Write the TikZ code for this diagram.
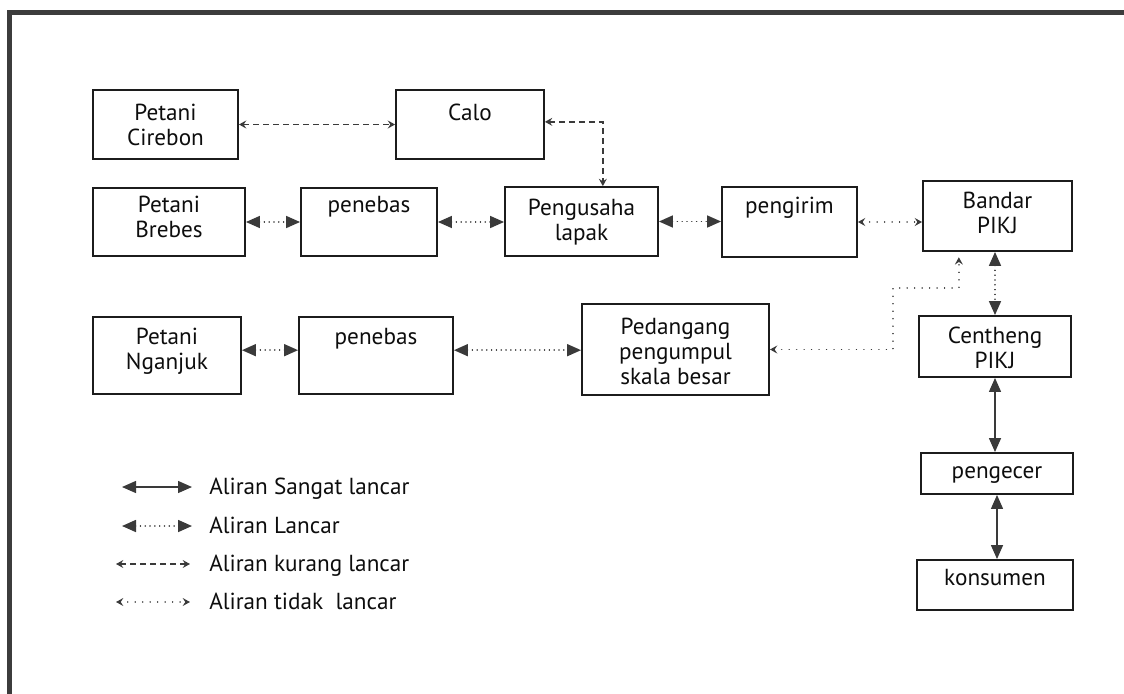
\documentclass[tikz,border=0pt]{standalone}
\usepackage{fontspec}
\setmainfont{PT Sans}
\usetikzlibrary{arrows.meta,fit}
\definecolor{framec}{HTML}{3C3C3C}
\definecolor{linec}{HTML}{3A3A3A}
\definecolor{boxc}{HTML}{1C1C1C}
\begin{document}
\begin{tikzpicture}[x=0.75pt,y=-0.75pt,
  box/.style={draw=boxc,line width=1.4pt,inner sep=0pt},
  lbl/.style={anchor=north,inner sep=0pt,align=center,text=black!95,
    font=\fontsize{17.4pt}{18.6pt}\selectfont},
  leg/.style={anchor=base west,inner sep=0pt,text=black!95,
    font=\fontsize{17.4pt}{18.6pt}\selectfont},
  big/.style={{Triangle[length=10.5pt,width=9pt]}-{Triangle[length=10.5pt,width=9pt]}},
  small/.style={{Stealth[length=5.5pt,width=6pt,inset=2pt]}-{Stealth[length=5.5pt,width=6pt,inset=2pt]}},
  solidflow/.style={big,draw=linec,line width=1pt},
  lancar/.style={big,draw=linec,line width=1.2pt,dash pattern=on 0.01pt off 3.6pt,line cap=round},
  kurang/.style={small,draw=linec,line width=1pt,dash pattern=on 4.5pt off 3pt},
  tidak/.style={small,draw=linec,line width=1.1pt,dash pattern=on 0.01pt off 5.6pt,line cap=round}]
\useasboundingbox (0,0) rectangle (1124,693);

% outer frame (top and left edges)
\draw[framec,line width=3.75pt] (9.3,720) -- (9.3,12.5) -- (1150,12.5);

% boxes
\node[box,fit={(93,90) (238,159)}] (pc) {};
\node[box,fit={(396,90) (544,159)}] (ca) {};
\node[box,fit={(93,188) (245,256)}] (pb) {};
\node[box,fit={(301,188) (437,256)}] (pn1) {};
\node[box,fit={(505,187) (658,256)}] (pu) {};
\node[box,fit={(722,187) (857,257)}] (pg) {};
\node[box,fit={(923,181) (1072,251)}] (bd) {};
\node[box,fit={(93,317) (241,394)}] (pn) {};
\node[box,fit={(299,317) (453,394)}] (pn2) {};
\node[box,fit={(582,304) (769,395)}] (pd) {};
\node[box,fit={(919,316) (1071,377)}] (ce) {};
\node[box,fit={(921,453) (1073,494)}] (pe) {};
\node[box,fit={(917,560) (1073,610)}] (ko) {};

% box texts
\node[lbl] (pc-t) at ([yshift=-11.25pt]pc.north) {Petani\\Cirebon};
\node[lbl] (ca-t) at ([yshift=-11.25pt]ca.north) {Calo};
\node[lbl] (pb-t) at ([yshift=-6.75pt]pb.north) {Petani\\Brebes};
\node[lbl] (pn1-t) at ([yshift=-6.75pt]pn1.north) {penebas};
\node[lbl] (pu-t) at ([yshift=-9.75pt]pu.north) {Pengusaha\\lapak};
\node[lbl] (pg-t) at ([yshift=-8.25pt]pg.north) {pengirim};
\node[lbl] (bd-t) at ([yshift=-9pt]bd.north) {Bandar\\PIKJ};
\node[lbl] (pn-t) at ([yshift=-9pt]pn.north) {Petani\\Nganjuk};
\node[lbl] (pn2-t) at ([yshift=-9pt]pn2.north) {penebas};
\node[lbl] (pd-t) at ([yshift=-11pt]pd.north) {Pedangang\\pengumpul\\skala besar};
\node[lbl] (ce-t) at ([yshift=-9pt]ce.north) {Centheng\\PIKJ};
\node[lbl] (pe-t) at ([yshift=-10.5pt]pe.north) {pengecer};
\node[lbl] (ko-t) at ([yshift=-7.5pt]ko.north) {konsumen};

% flows
\draw[kurang] (pc.east) -- (ca.west);
\draw[kurang] ([yshift=2pt]ca.east) -| ([xshift=16pt]pu.north);
\draw[lancar] (pb.east) -- (pb.east -| pn1.west);
\draw[lancar] (pn1.east) -- (pn1.east -| pu.west);
\draw[lancar] (pu.east) -- (pu.east -| pg.west);
\draw[tidak] (pg.east) -- (pg.east -| bd.west);
\draw[lancar] (bd.south -| ce.north) -- (ce.north);
\coordinate (k1) at (893,288);
\draw[tidak,shorten >=4pt] (pd.east) -| (k1) -| ([xshift=-29pt]bd.south);
\draw[lancar] ([yshift=4pt]pn.east) -- ([yshift=4pt]pn.east -| pn2.west);
\draw[lancar] ([yshift=4pt]pn2.east) -- ([yshift=4pt]pn2.east -| pd.west);
\draw[solidflow] (ce.south) -- (ce.south |- pe.north);
\draw[solidflow] (pe.south) -- (pe.south |- ko.north);

% legend
\coordinate (l1a) at (122,487); \coordinate (l1b) at (192,487);
\coordinate (l2a) at (122,526); \coordinate (l2b) at (192,526);
\coordinate (l3a) at (116,564); \coordinate (l3b) at (190,564);
\coordinate (l4a) at (116,602); \coordinate (l4b) at (190,602);
\draw[solidflow] (l1a) -- (l1b);
\draw[lancar] (l2a) -- (l2b);
\draw[kurang] (l3a) -- (l3b);
\draw[tidak] (l4a) -- (l4b);
\node[leg] (t1) at (209,494) {Aliran Sangat lancar};
\node[leg] (t2) at (209,533) {Aliran Lancar};
\node[leg] (t3) at (209,571) {Aliran kurang lancar};
\node[leg] (t4) at (209,609) {Aliran tidak\ \ lancar};
\end{tikzpicture}
\end{document}
